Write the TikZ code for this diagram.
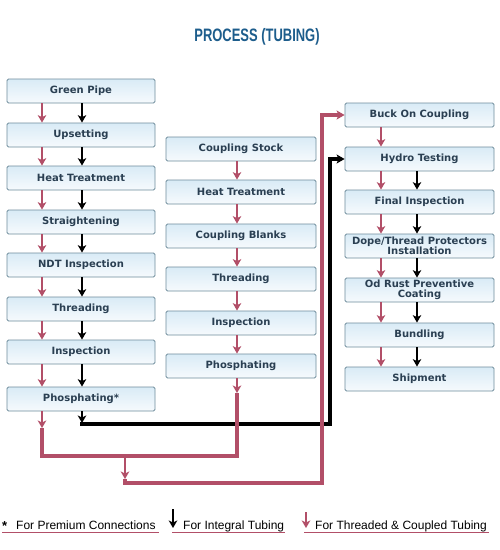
\documentclass[tikz,border=0pt]{standalone}
\usepackage{graphicx}
\usepackage{fontspec}
\setmainfont{DejaVu Sans}
\newfontfamily\lgfont{Liberation Sans}
\usetikzlibrary{arrows.meta}
\definecolor{tred}{HTML}{B24F68}
\definecolor{boxline}{HTML}{6F8D9C}
\definecolor{boxtop}{HTML}{D9EBF6}
\definecolor{boxbot}{HTML}{F6FAFD}
\definecolor{boxtext}{HTML}{2A3F52}
\definecolor{titleblue}{HTML}{1D5D8C}
\newcommand\bxfont{\fontsize{10}{10.5}\selectfont\bfseries}
\begin{document}
\begin{tikzpicture}[x=1pt,y=-1pt,
  procbox/.style={draw=boxline, line width=0.8pt, rounded corners=1.5pt,
    top color=boxtop, bottom color=boxbot, minimum width=148pt,
    minimum height=24pt, inner sep=0pt, font=\bxfont, text=boxtext, align=center},
  rarr/.style={draw=tred, line width=1.7pt, -{Stealth[length=7.5pt,width=8.5pt,inset=2pt]}},
  barr/.style={draw=black, line width=1.7pt, -{Stealth[length=7.5pt,width=8.5pt,inset=2pt]}},
  rthick/.style={draw=tred, line width=3.2pt},
  bthick/.style={draw=black, line width=3.5pt},
  rthickarr/.style={rthick, -{Stealth[length=8pt,width=9pt,inset=2pt]}},
  bthickarr/.style={bthick, -{Stealth[length=8pt,width=9pt,inset=2pt]}},
  legend/.style={font=\lgfont\fontsize{12}{12}\selectfont, anchor=base west, inner sep=0pt}
]
\useasboundingbox (0,0) rectangle (500,550);
\fill[white] (0,0) rectangle (500,550);

% title
\node[font=\lgfont\bfseries\fontsize{18}{18}\selectfont, text=titleblue] (title) at (257,37) {\scalebox{0.72}[1]{PROCESS (TUBING)}};

% left column
\node[procbox] (gp)  at (81,91)  {Green Pipe};
\node[procbox] (ups) at (81,135) {Upsetting};
\node[procbox] (htl) at (81,178) {Heat Treatment};
\node[procbox] (str) at (81,222) {Straightening};
\node[procbox] (ndt) at (81,265) {NDT Inspection};
\node[procbox] (thl) at (81,309) {Threading};
\node[procbox] (inl) at (81,352) {Inspection};
\node[procbox] (phl) at (81,399) {Phosphating*};

% middle column
\node[procbox, minimum width=150pt] (cs)  at (241,149) {Coupling Stock};
\node[procbox, minimum width=150pt] (htm) at (241,192) {Heat Treatment};
\node[procbox, minimum width=150pt] (cb)  at (241,236) {Coupling Blanks};
\node[procbox, minimum width=150pt] (thm) at (241,279) {Threading};
\node[procbox, minimum width=150pt] (inm) at (241,323) {Inspection};
\node[procbox, minimum width=150pt] (phm) at (241,366) {Phosphating};

% right column
\node[procbox, minimum width=149pt] (bc)  at (419.5,115) {Buck On Coupling};
\node[procbox, minimum width=149pt] (hyd) at (419.5,159) {Hydro Testing};
\node[procbox, minimum width=149pt] (fi)  at (419.5,202) {Final Inspection};
\node[procbox, minimum width=149pt] (dp)  at (419.5,246) {Dope/Thread Protectors\\Installation};
\node[procbox, minimum width=149pt] (od)  at (419.5,290) {Od Rust Preventive\\Coating};
\node[procbox, minimum width=149pt] (bu)  at (419.5,335) {Bundling};
\node[procbox, minimum width=149pt] (sh)  at (419.5,379) {Shipment};

% x positions of arrow lanes
\coordinate (Lr) at (42,0);
\coordinate (Lb) at (82,0);
\coordinate (Mr) at (237,0);
\coordinate (Rr) at (381,0);
\coordinate (Rb) at (417,0);

% left column arrows
\foreach \a/\b in {gp/ups, ups/htl, htl/str, str/ndt, ndt/thl, thl/inl, inl/phl}{
  \draw[rarr] (\a.south -| Lr) -- (\b.north -| Lr);
  \draw[barr] (\a.south -| Lb) -- (\b.north -| Lb);
}
% middle column arrows
\foreach \a/\b in {cs/htm, htm/cb, cb/thm, thm/inm, inm/phm}{
  \draw[rarr] (\a.south -| Mr) -- (\b.north -| Mr);
}
% right column arrows
\draw[rarr] (bc.south -| Rr) -- (hyd.north -| Rr);
\foreach \a/\b in {hyd/fi, fi/dp, dp/od, od/bu, bu/sh}{
  \draw[rarr] (\a.south -| Rr) -- (\b.north -| Rr);
  \draw[barr] (\a.south -| Rb) -- (\b.north -| Rb);
}

% integral tubing route (black)
\coordinate (qA) at (82,423);
\coordinate (qB) at (82,424);
\coordinate (qC) at (330,424);
\draw[bthick, line cap=rect] (qB) -- (qC);
\draw[barr] (phl.south -| Lb) -- (qA);
\draw[bthickarr] (qC) -- (qC |- hyd.west) -- (hyd.west);

% threaded & coupled route (red)
\coordinate (pA) at (42,428);
\coordinate (pB) at (42,456);
\coordinate (pC) at (237,456);
\coordinate (pD) at (237,393);
\coordinate (pE) at (125,456);
\coordinate (pF) at (125,479);
\coordinate (pG) at (125,483);
\coordinate (pH) at (322,483);
\draw[rarr] (phl.south -| Lr) -- (pA);
\draw[rarr] (phm.south -| Mr) -- (pD);
\draw[rthick] (pA) -- (pB) -- (pC) -- (pD);
\draw[rarr] (pE) -- (pF);
\draw[rthickarr] (pF) -- (pG) -- (pH) -- (pH |- bc.west) -- (bc.west);

% legend
\node[legend, font=\lgfont\bfseries\fontsize{13}{13}\selectfont] (lstar) at (2,530) {*};
\node[legend] (l1) at (16,529) {For Premium Connections};
\draw[tred, line width=0.7pt] (2,532.5) -- (159,532.5);
\draw[barr] (173,509) -- (173,528);
\node[legend] (l2) at (183,529) {For Integral Tubing};
\draw[tred, line width=0.7pt] (172,532.5) -- (285,532.5);
\draw[rarr] (306,512) -- (306,528);
\node[legend] (l3) at (315,529) {For Threaded \& Coupled Tubing};
\draw[tred, line width=0.7pt] (304,532.5) -- (489,532.5);
\end{tikzpicture}
\end{document}
